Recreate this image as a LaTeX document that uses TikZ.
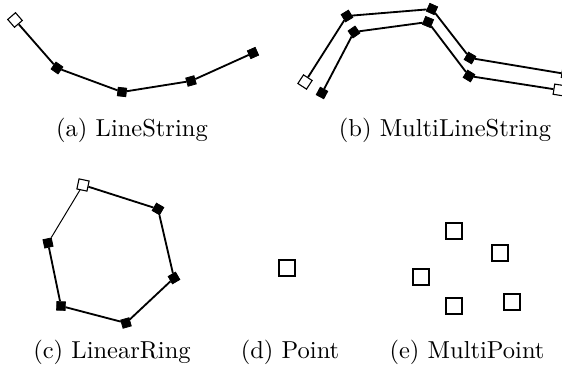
\documentclass[tikz,border=0pt]{standalone}
\begin{document}
\begin{tikzpicture}[x=0.408pt,y=-0.408pt,
  vtx/.style={draw=black,fill=black,rectangle,minimum size=3.5pt,inner sep=0pt,line width=0.3pt},
  vstart/.style={draw=black,fill=white,rectangle,minimum size=4.2pt,inner sep=0pt,line width=0.45pt},
  pt/.style={draw=black,fill=white,rectangle,minimum width=6.3pt,minimum height=6.6pt,inner sep=0pt,line width=0.85pt},
  seg/.style={line width=0.75pt},
  thinseg/.style={line width=0.4pt},
  captext/.style={anchor=base,inner sep=0pt}]
\useasboundingbox (0,0) rectangle (562,371);
\clip (0,0) rectangle (562,371);

% (a) LineString
\node[vstart,rotate=-49] (a0) at (15,20) {};
\node[vtx,rotate=-35] (a1) at (57,68) {};
\node[vtx,rotate=-6] (a2) at (122,92) {};
\node[vtx,rotate=16] (a3) at (191,81) {};
\node[vtx,rotate=24] (a4) at (253,53) {};
\draw[seg] (a0) -- (a1) -- (a2) -- (a3) -- (a4);

% (b) MultiLineString
\node[vstart,rotate=57] (b0) at (305,82) {};
\node[vtx,rotate=31] (b1) at (347,16) {};
\node[vtx,rotate=-24] (b2) at (432,9) {};
\node[vtx,rotate=-30] (b3) at (470,58) {};
\node[vtx,rotate=-9] (b4) at (566,74) {};
\draw[seg] (b0) -- (b1) -- (b2) -- (b3) -- (b4);
\node[vtx,rotate=62] (c0) at (322,93) {};
\node[vtx,rotate=35] (c1) at (354,32) {};
\node[vtx,rotate=-22] (c2) at (428,22) {};
\node[vtx,rotate=-31] (c3) at (469,76) {};
\node[vstart,rotate=-9] (c4) at (559,90) {};
\draw[seg] (c0) -- (c1) -- (c2) -- (c3) -- (c4);

% (c) LinearRing
\node[vstart,rotate=-12] (r0) at (83,185) {};
\node[vtx,rotate=-30] (r1) at (158,209) {};
\node[vtx,rotate=30] (r2) at (174,278) {};
\node[vtx,rotate=16] (r3) at (126,323) {};
\node[vtx,rotate=-2] (r4) at (61,306) {};
\node[vtx,rotate=12] (r5) at (48,243) {};
\draw[seg] (r0) -- (r1) -- (r2) -- (r3) -- (r4) -- (r5);
\draw[thinseg] (r5) -- (r0);

% (d) Point
\node[pt] (p) at (287,268) {};

% (e) MultiPoint
\node[pt] (m1) at (454,231) {};
\node[pt] (m2) at (500,253) {};
\node[pt] (m3) at (421,277) {};
\node[pt] (m4) at (454,306) {};
\node[pt] (m5) at (512,302) {};

% captions
\node[captext] (capa) at (132,137) {(a) LineString};
\node[captext] (capb) at (445,137) {(b) MultiLineString};
\node[captext] (capc) at (112,358.5) {(c) LinearRing};
\node[captext] (capd) at (290,358.5) {(d) Point};
\node[captext] (cape) at (467,358.5) {(e) MultiPoint};
\end{tikzpicture}
\end{document}
